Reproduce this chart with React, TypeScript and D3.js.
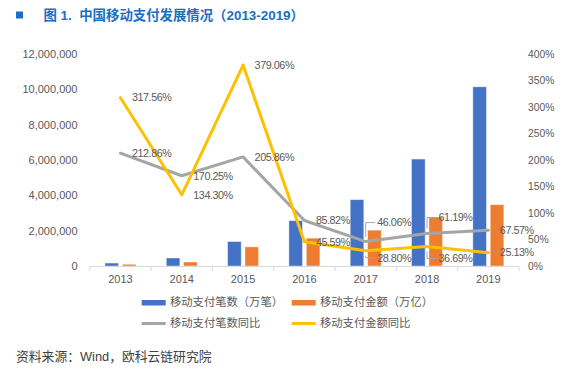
import React from "react";
import * as d3 from "d3";

const years = ["2013", "2014", "2015", "2016", "2017", "2018", "2019"];
const countValues = [167400, 452400, 1383700, 2571000, 3755200, 6053100, 10143100];
const amountValues = [96400, 225900, 1082200, 1575500, 2029300, 2773900, 3471100];
const countGrowth = [212.86, 170.25, 205.86, 85.82, 46.06, 61.19, 67.57];
const amountGrowth = [317.56, 134.3, 379.06, 45.59, 28.8, 36.69, 25.13];
const leftTicks = [0, 2000000, 4000000, 6000000, 8000000, 10000000, 12000000];
const rightTicks = [0, 50, 100, 150, 200, 250, 300, 350, 400];
const seriesNames = ["移动支付笔数（万笔）", "移动支付金额（万亿）", "移动支付笔数同比", "移动支付金额同比"];
const titleText = "图 1.  中国移动支付发展情况（2013-2019）";
const sourceText = "资料来源：Wind，欧科云链研究院";

// label layout (vertical displacement of some data labels, px)
const countLabelDy = [0, 0, 0, 0, -19, -16, 0];
const amountLabelDy = [0, 0, 0, 0, 7, 12, 0];

const W = 577;
const H = 375;
const FONT = '"Liberation Sans", Arial, "Noto Sans CJK SC", sans-serif';
const colors = { blue: "#4472C4", orange: "#ED7D31", gray: "#A5A5A5", yellow: "#FFC000" };
const textColor = "#595959";

export default function App() {
  const x = d3.scaleBand<string>().domain(years).range([89.8, 519]);
  const yL = d3.scaleLinear().domain([0, 12000000]).range([266, 54]);
  const yR = d3.scaleLinear().domain([0, 400]).range([266, 54]);
  const barW = 13.6;
  const gap = 3.8;
  const cx = (d: string) => (x(d) as number) + x.bandwidth() / 2;
  const line = d3
    .line<number>()
    .x((_, i) => cx(years[i]))
    .y((v) => yR(v));
  const fmt = d3.format(",");

  const labelFor = (vals: number[], dys: number[], key: string) =>
    vals.map((v, i) => {
      const px = cx(years[i]);
      const py = yR(v);
      const ly = py + dys[i];
      const lx = px + 11.5;
      const hasLeader = Math.abs(dys[i]) > 4;
      const sign = dys[i] < 0 ? -1 : 1;
      return (
        <g key={key + i}>
          {hasLeader && (
            <polyline
              points={`${lx - 2},${ly} ${px},${ly} ${px},${py + sign * 5}`}
              fill="none"
              stroke="#A6A6A6"
              strokeWidth={1}
            />
          )}
          <text
            x={lx}
            y={ly}
            dy="0.35em"
            fontSize={10.8}
            letterSpacing={-0.45}
            fill={textColor}
          >
            {v.toFixed(2)}%
          </text>
        </g>
      );
    });

  return (
    <svg
      width={W}
      height={H}
      style={{ position: "absolute", left: 0, top: 0, background: "#fff" }}
      fontFamily={FONT}
    >
      <rect x={0} y={0} width={W} height={H} fill="#fff" />
      {/* title */}
      <rect x={16} y={11.5} width={7} height={7} fill="#1B6EC2" />
      <text
        x={43.5}
        y={15}
        dy="0.35em"
        fontSize={13.4}
        fontWeight="bold"
        fill="#1B6EC2"
        style={{ whiteSpace: "pre" }}
      >
        {titleText}
      </text>

      {/* left axis labels */}
      {leftTicks.map((t) => (
        <text key={"l" + t} x={77.5} y={yL(t)} dy="0.35em" textAnchor="end" fontSize={11} fill={textColor}>
          {fmt(t)}
        </text>
      ))}
      {/* right axis labels */}
      {rightTicks.map((t) => (
        <text key={"r" + t} x={528} y={yR(t)} dy="0.35em" fontSize={10.3} fill={textColor}>
          {t}%
        </text>
      ))}

      {/* bars */}
      {years.map((yv, i) => (
        <g key={"b" + yv}>
          <rect
            x={cx(yv) - gap / 2 - barW}
            y={yL(countValues[i])}
            width={barW}
            height={266 - yL(countValues[i])}
            fill={colors.blue}
            stroke="#fff"
            strokeOpacity={0.5}
            strokeWidth={0.8}
          />
          <rect
            x={cx(yv) + gap / 2}
            y={yL(amountValues[i])}
            width={barW}
            height={266 - yL(amountValues[i])}
            fill={colors.orange}
            stroke="#fff"
            strokeOpacity={0.5}
            strokeWidth={0.8}
          />
        </g>
      ))}

      {/* x axis */}
      <line x1={89.8} x2={519} y1={266.5} y2={266.5} stroke="#D9D9D9" strokeWidth={1} />
      {d3.range(years.length + 1).map((i) => {
        const xx = 89.8 + i * x.step();
        return <line key={"t" + i} x1={xx} x2={xx} y1={266.5} y2={271} stroke="#D9D9D9" strokeWidth={1} />;
      })}
      {years.map((yv) => (
        <text key={"x" + yv} x={cx(yv)} y={279.5} dy="0.35em" textAnchor="middle" fontSize={11} fill={textColor}>
          {yv}
        </text>
      ))}

      {/* lines */}
      <path d={line(countGrowth) || ""} fill="none" stroke={colors.gray} strokeWidth={3} strokeLinejoin="round" strokeLinecap="round" />
      <path d={line(amountGrowth) || ""} fill="none" stroke={colors.yellow} strokeWidth={3} strokeLinejoin="round" strokeLinecap="round" />

      {labelFor(countGrowth, countLabelDy, "c")}
      {labelFor(amountGrowth, amountLabelDy, "a")}

      {/* legend */}
      <rect x={141.7} y={300} width={24} height={5.5} fill={colors.blue} />
      <text x={170} y={302.5} dy="0.35em" fontSize={11.3} fill={textColor}>{seriesNames[0]}</text>
      <rect x={291.7} y={300} width={24} height={5.5} fill={colors.orange} />
      <text x={320} y={302.5} dy="0.35em" fontSize={11.3} fill={textColor}>{seriesNames[1]}</text>
      <line x1={141.7} x2={165.7} y1={323.5} y2={323.5} stroke={colors.gray} strokeWidth={3} />
      <text x={170} y={323.5} dy="0.35em" fontSize={11.3} fill={textColor}>{seriesNames[2]}</text>
      <line x1={291.7} x2={315.7} y1={323.5} y2={323.5} stroke={colors.yellow} strokeWidth={3} />
      <text x={320} y={323.5} dy="0.35em" fontSize={11.3} fill={textColor}>{seriesNames[3]}</text>

      {/* source */}
      <text x={16} y={356.5} dy="0.35em" fontSize={12.8} fill="#404040">{sourceText}</text>
    </svg>
  );
}
